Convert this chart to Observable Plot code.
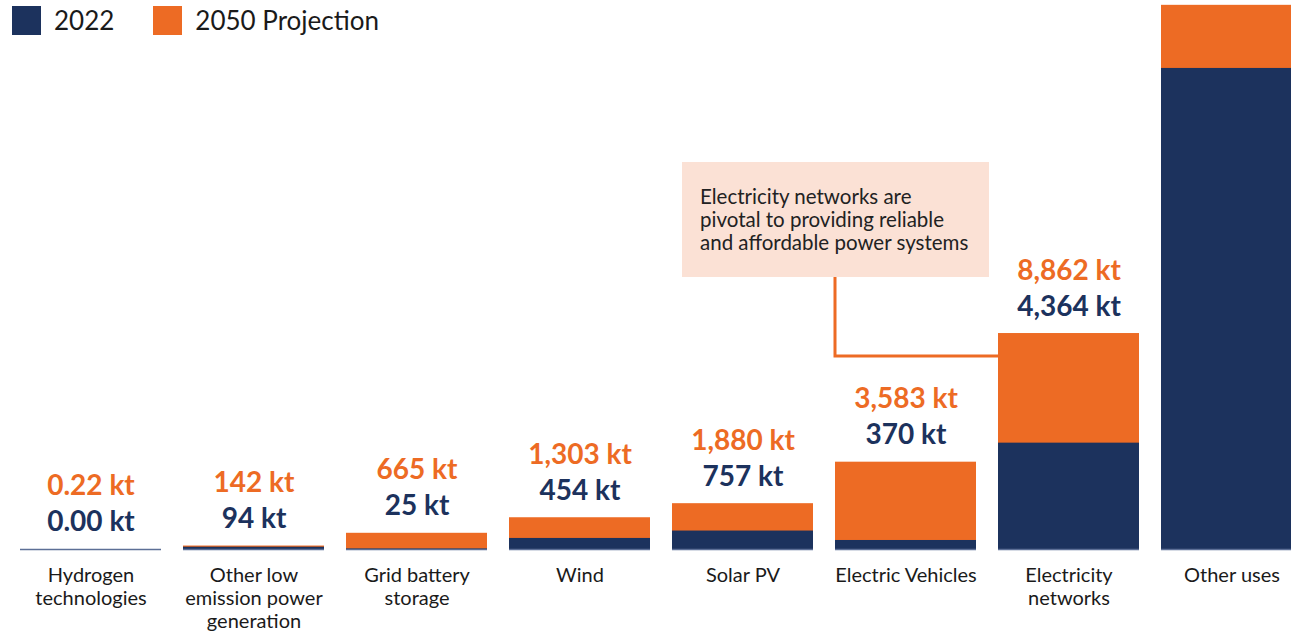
<!DOCTYPE html>
<html>
<head>
<meta charset="utf-8">
<script src="https://cdn.jsdelivr.net/npm/d3@7"></script>
<script src="https://cdn.jsdelivr.net/npm/@observablehq/plot@0.6"></script>
<style>
  html, body { margin: 0; padding: 0; background: #fff; overflow: hidden; }
  #wrap { position: relative; width: 1291px; height: 633px; overflow: hidden; font-family: Lato, sans-serif; }
  #legend { position: absolute; left: 12px; top: 6px; display: flex; align-items: center; font-size: 26px; line-height: 29px; color: #1a1a1a; z-index: 2; }
  #legend .sw { width: 29px; height: 29px; display: inline-block; margin-right: 13px; }
  #legend .item { display: flex; align-items: center; margin-right: 39px; }
  #chart svg { max-width: none !important; }
</style>
</head>
<body>
<div id="wrap">
  <div id="legend"></div>
  <div id="chart"></div>
</div>
<script>
const categories = ["Hydrogen technologies", "Other low emission power generation", "Grid battery storage", "Wind", "Solar PV", "Electric Vehicles", "Electricity networks", "Other uses"];
const tickLabels = ["Hydrogen\ntechnologies", "Other low\nemission power\ngeneration", "Grid battery\nstorage", "Wind", "Solar PV", "Electric Vehicles", "Electricity\nnetworks", "Other uses"];
const values2022 = [0.00, 94, 25, 454, 757, 370, 4364, 19740];
const values2050 = [0.22, 142, 665, 1303, 1880, 3583, 8862, 22330];
const labels2022 = ["0.00 kt", "94 kt", "25 kt", "454 kt", "757 kt", "370 kt", "4,364 kt", ""];
const labels2050 = ["0.22 kt", "142 kt", "665 kt", "1,303 kt", "1,880 kt", "3,583 kt", "8,862 kt", ""];
const seriesNames = ["2022", "2050 Projection"];
const annotationText = ["Electricity networks are", "pivotal to providing reliable", "and affordable power systems"];

const NAVY = "#1c325d";
const ORANGE = "#ed6b24";

const data = categories.map((c, i) => ({
  cat: c, tick: tickLabels[i],
  v2022: values2022[i], v2050: values2050[i],
  l2022: labels2022[i], l2050: labels2050[i]
}));

const plot = Plot.plot({
  width: 1310,
  height: 633,
  marginLeft: 19,
  marginRight: 7,
  marginTop: 0,
  marginBottom: 84,
  style: { fontFamily: "Lato, sans-serif", background: "#fff", overflow: "visible", maxWidth: "none" },
  x: { domain: categories, paddingInner: 0.135, paddingOuter: 0, label: null },
  y: { domain: [0, 22528], axis: null },
  marks: [
    Plot.barY(data, { x: "cat", y: "v2050", fill: ORANGE }),
    Plot.barY(data, { x: "cat", y: "v2022", fill: NAVY }),
    Plot.tickY(data, { x: "cat", y: 0, stroke: "#5d6f96", strokeWidth: 1.5 }),
    Plot.text(data, { x: "cat", y: "v2050", text: "l2022", dy: -27, fill: NAVY, fontSize: 28, fontWeight: "bold" }),
    Plot.text(data, { x: "cat", y: "v2050", text: "l2050", dy: -63, fill: ORANGE, fontSize: 28, fontWeight: "bold" }),
    Plot.axisX({
      tickSize: 0, tickPadding: 16, fontSize: 20, lineHeight: 1.15,
      tickFormat: (d) => tickLabels[categories.indexOf(d)],
      fill: "#1a1a1a", label: null
    })
  ]
});
plot.style.maxWidth = "none";
document.getElementById("chart").appendChild(plot);

// Annotation anchored via the plot's scales
const xs = plot.scale("x");
const ys = plot.scale("y");
const svg = d3.select(plot);
const xEV = xs.apply("Electric Vehicles");
const xEN = xs.apply("Electricity networks");
const yEN = ys.apply(values2050[6]);
const boxW = 307, boxTop = 162, boxH = 115;
const g = svg.append("g");
g.append("rect").attr("x", xEV - 153).attr("y", boxTop).attr("width", boxW).attr("height", boxH).attr("fill", "#fbe1d5");
g.append("path")
  .attr("d", `M${xEV},${boxTop + boxH} V${yEN + 23} H${xEN}`)
  .attr("fill", "none").attr("stroke", ORANGE).attr("stroke-width", 3);
const t = g.append("text").attr("font-size", 20.5).attr("fill", "#222").attr("text-anchor", "start").attr("font-family", "Lato, sans-serif");
annotationText.forEach((line, i) => {
  t.append("tspan").attr("x", xEV - 135).attr("y", boxTop + 42 + i * 23).text(line);
});

// Legend
const legend = d3.select("#legend");
[NAVY, ORANGE].forEach((c, i) => {
  const item = legend.append("div").attr("class", "item");
  item.append("span").attr("class", "sw").style("background", c);
  item.append("span").text(seriesNames[i]);
});
</script>
</body>
</html>
